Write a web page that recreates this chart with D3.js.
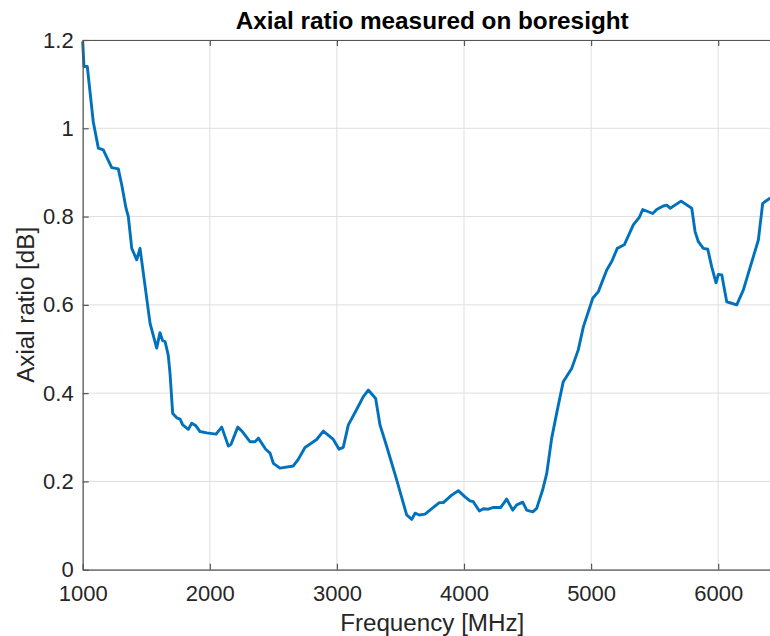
<!DOCTYPE html>
<html>
<head>
<meta charset="utf-8">
<script src="https://cdn.jsdelivr.net/npm/d3@7"></script>
<style>
  html, body { margin: 0; padding: 0; background: #fff; }
  svg { display: block; }
  text { font-family: "Liberation Sans", Arial, Helvetica, sans-serif; }
</style>
</head>
<body>
<svg id="chart" width="770" height="636"></svg>
<script>
const freq = [1000,1010,1036,1083,1123,1162,1228,1280,1307,1340,1359,1386,1425,1451,1530,1582,1608,1629,1648,1673,1687,1708,1740,1766,1787,1831,1858,1891,1923,1976,2049,2094,2146,2167,2220,2256,2316,2356,2382,2440,2474,2500,2552,2657,2696,2749,2841,2893,2972,3017,3050,3090,3150,3208,3247,3305,3339,3392,3471,3549,3589,3615,3648,3693,3759,3806,3837,3903,3955,4008,4047,4073,4121,4152,4191,4231,4289,4336,4383,4415,4462,4493,4541,4572,4619,4651,4690,4740,4781,4847,4899,4939,5013,5057,5123,5162,5206,5261,5332,5379,5406,5485,5516,5568,5595,5622,5708,5792,5818,5844,5883,5918,5949,5983,6001,6028,6067,6146,6198,6316,6350,6410];
const axialRatio = [1.197,1.14,1.14,1.015,0.955,0.951,0.911,0.908,0.872,0.82,0.80,0.728,0.702,0.728,0.558,0.502,0.537,0.519,0.517,0.486,0.445,0.354,0.344,0.341,0.328,0.318,0.332,0.326,0.313,0.310,0.307,0.323,0.280,0.284,0.323,0.313,0.290,0.290,0.298,0.273,0.264,0.241,0.230,0.235,0.250,0.277,0.295,0.314,0.295,0.273,0.277,0.328,0.360,0.392,0.407,0.388,0.328,0.279,0.203,0.124,0.114,0.128,0.124,0.126,0.141,0.152,0.152,0.169,0.179,0.165,0.156,0.154,0.133,0.138,0.137,0.141,0.141,0.160,0.135,0.147,0.153,0.135,0.131,0.139,0.181,0.218,0.298,0.37,0.426,0.456,0.498,0.550,0.615,0.630,0.679,0.698,0.728,0.736,0.781,0.798,0.816,0.807,0.816,0.824,0.826,0.819,0.835,0.819,0.766,0.743,0.728,0.726,0.686,0.650,0.669,0.668,0.607,0.600,0.634,0.747,0.830,0.842];
const xTicks = [1000,2000,3000,4000,5000,6000];
const yTicks = [0,0.2,0.4,0.6,0.8,1,1.2];
const yTickLabels = ["0","0.2","0.4","0.6","0.8","1","1.2"];
const titleText = "Axial ratio measured on boresight";
const xLabelText = "Frequency [MHz]";
const yLabelText = "Axial ratio [dB]";

(function () {
const svg = d3.select("#chart");
const mLeft = 82.7, mTop = 40, mBottom = 569.7;
const x = d3.scaleLinear().domain([1000, 6500]).range([mLeft, mLeft + 127.1 * 5.5]);
const y = d3.scaleLinear().domain([0, 1.2]).range([mBottom, mTop]);
const mRight = x(6500);

// grid
const grid = svg.append("g");
grid.selectAll("line.gx").data(xTicks).enter().append("line")
  .attr("x1", d => x(d)).attr("x2", d => x(d)).attr("y1", mTop).attr("y2", mBottom)
  .attr("stroke", "#dfdfdf").attr("stroke-width", 1);
grid.selectAll("line.gy").data(yTicks).enter().append("line")
  .attr("x1", mLeft).attr("x2", mRight).attr("y1", d => y(d)).attr("y2", d => y(d))
  .attr("stroke", "#dfdfdf").attr("stroke-width", 1);

// data line
const line = d3.line().x((d, i) => x(freq[i])).y(d => y(d));
svg.append("path").datum(axialRatio)
  .attr("d", line).attr("fill", "none")
  .attr("stroke", "#0072BD").attr("stroke-width", 2.9)
  .attr("stroke-linejoin", "round");

// axes
const tickColor = "#262626";
const xAxis = d3.axisBottom(x).tickValues(xTicks).tickSizeInner(-6).tickSizeOuter(0).tickPadding(15.5).tickFormat(d3.format("d"));
const gx = svg.append("g").attr("transform", `translate(0,${mBottom})`).call(xAxis);
const xAxisTop = d3.axisTop(x).tickValues(xTicks).tickSizeInner(-6).tickSizeOuter(0).tickFormat("");
const gxt = svg.append("g").attr("transform", `translate(0,${mTop})`).call(xAxisTop);
const yAxis = d3.axisLeft(y).tickValues(yTicks).tickSizeInner(-6).tickSizeOuter(0).tickPadding(9)
  .tickFormat((d, i) => yTickLabels[i]);
const gy = svg.append("g").attr("transform", `translate(${mLeft},0)`).call(yAxis);

[gx, gxt, gy].forEach(g => {
  g.select(".domain").attr("stroke", "#555").attr("stroke-width", 1.2);
  g.selectAll(".tick line").attr("stroke", "#555").attr("stroke-width", 1.2);
  g.selectAll(".tick text").attr("fill", tickColor)
    .style("font-family", "'Liberation Sans', Arial, sans-serif").style("font-size", "22px");
});

// title & labels
svg.append("text").attr("x", (mLeft + mRight) / 2).attr("y", 29)
  .attr("text-anchor", "middle").attr("fill", "#000")
  .style("font-size", "24.3px").style("font-weight", "bold").text(titleText);
svg.append("text").attr("x", (mLeft + mRight) / 2).attr("y", 631)
  .attr("text-anchor", "middle").attr("fill", tickColor)
  .style("font-size", "24.2px").text(xLabelText);
svg.append("text").attr("transform", `translate(34,${(mTop + mBottom) / 2}) rotate(-90)`)
  .attr("text-anchor", "middle").attr("fill", tickColor)
  .style("font-size", "24.2px").text(yLabelText);
})();
</script>
</body>
</html>
